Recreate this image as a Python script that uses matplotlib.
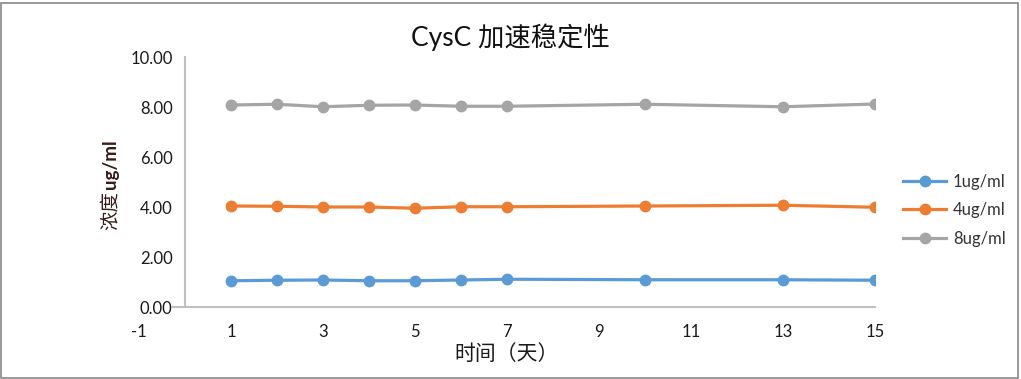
import matplotlib
matplotlib.use('Agg')
import matplotlib.pyplot as plt
from matplotlib.patches import Rectangle

plt.rcParams['font.family'] = ['Lato', 'Noto Sans CJK SC', 'DejaVu Sans']
plt.rcParams['axes.unicode_minus'] = False

# data
days = [1, 2, 3, 4, 5, 6, 7, 10, 13, 15]
c1 = [1.05, 1.07, 1.08, 1.05, 1.05, 1.08, 1.11, 1.09, 1.09, 1.07]
c4 = [4.04, 4.03, 4.00, 4.00, 3.95, 4.01, 4.01, 4.04, 4.07, 3.99]
c8 = [8.08, 8.11, 8.01, 8.07, 8.08, 8.03, 8.03, 8.11, 8.01, 8.12]
names = ['1ug/ml', '4ug/ml', '8ug/ml']
colors = ['#5B9BD5', '#ED7D31', '#A5A5A5']
xticks = [-1, 1, 3, 5, 7, 9, 11, 13, 15]
yticks = [0, 2, 4, 6, 8, 10]

fig = plt.figure(figsize=(10.21, 3.79), dpi=100)
ax = fig.add_axes([139 / 1021, 72 / 379, 736 / 1021, 250 / 379])

for vals, name, col in zip([c1, c4, c8], names, colors):
    ax.plot(days, vals, '-o', color=col, lw=2.3, ms=7.5, label=name)

ax.set_xlim(-1, 15)
ax.set_ylim(0, 10)
ax.set_xticks(xticks)
ax.set_yticks(yticks)
ax.set_yticklabels(['%.2f' % v for v in yticks])

for s in ['top', 'right']:
    ax.spines[s].set_visible(False)
ax.spines['left'].set_position(('data', 0))
ax.spines['left'].set_color('#BFBFBF')
ax.spines['bottom'].set_color('#BFBFBF')
ax.spines['left'].set_linewidth(1.5)
ax.spines['bottom'].set_linewidth(1.5)
ax.spines['bottom'].set_bounds(-0.28, 15)
ax.tick_params(axis='y', length=0, pad=9, labelsize=12, labelcolor='#1a1a1a')
ax.tick_params(axis='x', length=0, pad=12, labelsize=12, labelcolor='#1a1a1a')

ax.set_xlabel('时间（天）', fontsize=15, color='#1a1a1a', labelpad=3)
# y label: Chinese part regular, unit in bold
fig.text(110 / 1021, 1 - 191 / 379, '浓度', rotation=90,
         ha='center', va='top', fontsize=14, color='#3a1a1a')
fig.text(110 / 1021, 1 - 189 / 379, 'ug/ml', rotation=90,
         ha='center', va='bottom', fontsize=13.5, fontweight='bold', color='#3a1a1a')
fig.text(510 / 1021, 1 - 37 / 379, 'CysC 加速稳定性', ha='center', va='center',
         fontsize=19, color='#111111')

fig.legend(loc='center left', bbox_to_anchor=(888 / 1021, 1 - 210 / 379),
           frameon=False, fontsize=12, handlelength=2.6, labelspacing=0.75,
           handletextpad=0.4, labelcolor='#333333')

fig.patches.append(Rectangle((0.001, 0.003), 0.996, 0.99, transform=fig.transFigure,
                             fill=False, edgecolor='#888888', lw=1.2))

fig.savefig('out.png', dpi=100)
